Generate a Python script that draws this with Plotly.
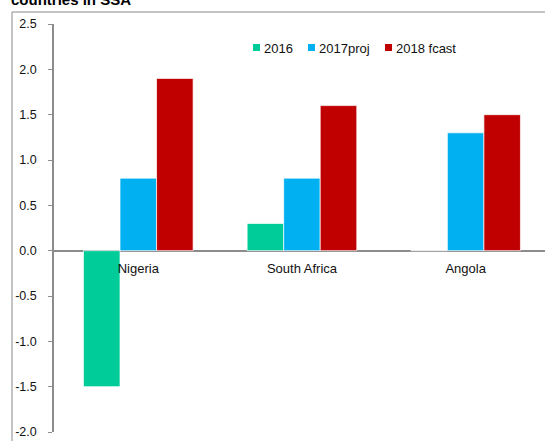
import plotly.graph_objects as go

categories = ["Nigeria", "South Africa", "Angola"]
series_names = ["2016", "2017proj", "2018 fcast"]
v2016 = [-1.5, 0.3, 0.0]
v2017 = [0.8, 0.8, 1.3]
v2018 = [1.9, 1.6, 1.5]
colors = ["#00CC99", "#00B0F0", "#C00000"]
yticks = [-2.0, -1.5, -1.0, -0.5, 0.0, 0.5, 1.0, 1.5, 2.0, 2.5]
yticktext = ["%.1f" % v for v in yticks]  # plain hyphen minus

W, H = 545, 441
L, R, T, B = 54, 0, 24, 9
pw, ph = W - L - R, H - T - B

def px_x(x):
    return (x - L) / pw

def px_y(y):
    return (H - B - y) / ph

fig = go.Figure()
for name, vals, c in zip(series_names, [v2016, v2017, v2018], colors):
    fig.add_trace(go.Bar(x=categories, y=vals, name=name, marker_color=c,
                         marker_line_color="rgba(255,255,255,0.7)", marker_line_width=1,
                         showlegend=False))

font = "Liberation Sans, Arial, sans-serif"
fig.update_layout(
    width=W, height=H, margin=dict(l=L, r=R, t=T, b=B, pad=0),
    paper_bgcolor="white", plot_bgcolor="white",
    barmode="group", bargap=0.33, bargroupgap=0,
    font=dict(family=font, size=13, color="#111"),
    xaxis=dict(type="category", range=[-0.515, 2.485], showgrid=False, zeroline=False,
               showline=False, ticks="", anchor="free", position=2 / 4.5,
               tickfont=dict(size=13, color="#111"), ticklabelstandoff=8),
    yaxis=dict(range=[-2, 2.5], tickvals=yticks, ticktext=yticktext, showgrid=False,
               zeroline=True, zerolinecolor="#8c8c8c", zerolinewidth=2,
               showline=True, linecolor="#8c8c8c", linewidth=1.5,
               ticks="outside", ticklen=4, tickcolor="#8c8c8c", tickwidth=1,
               tickfont=dict(size=12.5, color="#111"), ticklabelstandoff=9),
)

# outer frame lines
fig.add_shape(type="line", xref="paper", yref="paper", x0=px_x(12), x1=px_x(560),
              y0=px_y(12), y1=px_y(12), line=dict(color="#b0b0b0", width=1.5))
fig.add_shape(type="line", xref="paper", yref="paper", x0=px_x(12), x1=px_x(12),
              y0=px_y(12), y1=px_y(460), line=dict(color="#b0b0b0", width=1.5))

# title (cut off at top, as in the original)
fig.add_annotation(text="<b>countries in SSA</b>", xref="paper", yref="paper",
                   x=px_x(9), y=px_y(0), xanchor="left", yanchor="middle",
                   showarrow=False, font=dict(size=15, color="#000", family=font))

# manual legend
leg_x = [253, 308, 385]
for name, c, lx in zip(series_names, colors, leg_x):
    fig.add_shape(type="rect", xref="paper", yref="paper",
                  x0=px_x(lx), x1=px_x(lx + 7), y0=px_y(51), y1=px_y(44),
                  fillcolor=c, line=dict(width=0))
    fig.add_annotation(text=name, xref="paper", yref="paper", x=px_x(lx + 9), y=px_y(48),
                       xanchor="left", yanchor="middle", showarrow=False,
                       font=dict(size=13, color="#111", family=font))

fig.write_html("out.html")
